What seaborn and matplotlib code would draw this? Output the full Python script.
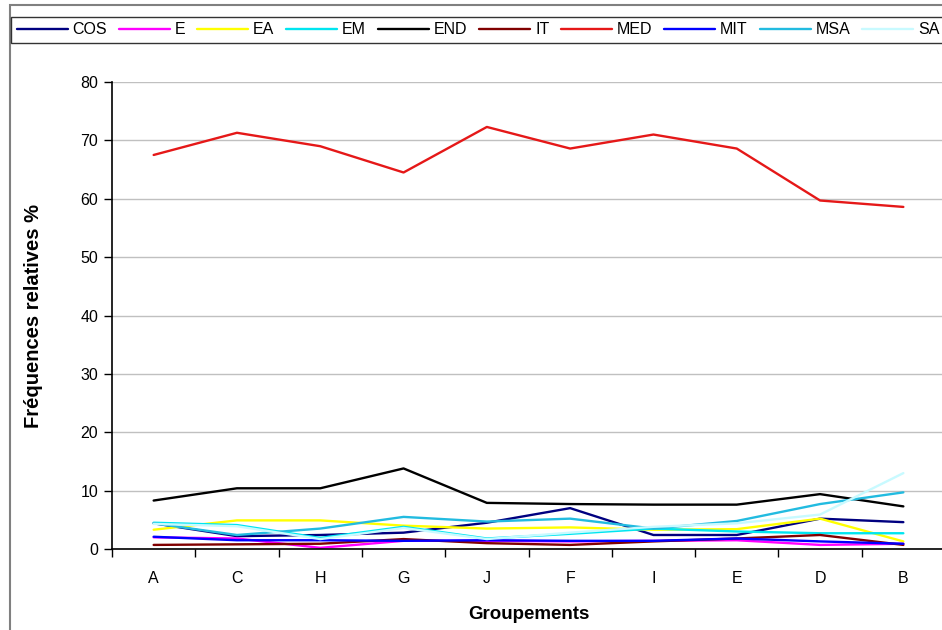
import matplotlib
matplotlib.use("Agg")
import matplotlib.pyplot as plt
from matplotlib.patches import Rectangle
from matplotlib.ticker import FixedLocator, MultipleLocator
import seaborn as sns
import pandas as pd

# Groupements along the x axis
groupements = ["A", "C", "H", "G", "J", "F", "I", "E", "D", "B"]

# Relative frequencies (%) per chorological type
COS = [4.4, 2.2, 2.4, 2.8, 4.5, 7.0, 2.4, 2.4, 5.2, 4.6]
E   = [2.0, 1.8, 0.2, 1.4, 1.4, 1.3, 1.4, 1.5, 0.7, 0.9]
EA  = [3.3, 4.9, 4.9, 4.0, 3.5, 3.7, 3.3, 3.4, 5.2, 1.3]
EM  = [4.5, 4.1, 1.9, 3.8, 1.8, 2.6, 3.5, 3.0, 2.7, 2.7]
END = [8.3, 10.4, 10.4, 13.8, 7.9, 7.7, 7.6, 7.6, 9.4, 7.3]
IT  = [0.7, 0.8, 0.9, 1.7, 1.0, 0.7, 1.3, 1.8, 2.4, 0.7]
MED = [67.5, 71.3, 69.0, 64.5, 72.3, 68.6, 71.0, 68.6, 59.7, 58.6]
MIT = [2.1, 1.5, 1.5, 1.4, 1.5, 1.4, 1.4, 1.8, 1.3, 0.9]
MSA = [4.4, 2.4, 3.5, 5.5, 4.7, 5.2, 3.5, 4.8, 7.7, 9.7]
SA  = [4.3, 3.9, 1.7, 3.6, 1.7, 2.8, 3.8, 4.4, 5.9, 13.0]

series_names = ["COS", "E", "EA", "EM", "END", "IT", "MED", "MIT", "MSA", "SA"]
series_values = [COS, E, EA, EM, END, IT, MED, MIT, MSA, SA]

colors = {
    "COS": "#000080", "E": "#FF00FF", "EA": "#FFFF00", "EM": "#00E5F0",
    "END": "#000000", "IT": "#800000", "MED": "#E51818", "MIT": "#0000FF",
    "MSA": "#22BBE0", "SA": "#C8FAFF",
}

rows = []
for name, vals in zip(series_names, series_values):
    for g, v in zip(groupements, vals):
        rows.append({"Groupement": g, "Fréquence": v, "Type": name})
df = pd.DataFrame(rows)

sns.set_style("white")
plt.rcParams["font.family"] = ["Liberation Sans", "DejaVu Sans"]
for key in ["text.color", "axes.labelcolor", "xtick.color", "ytick.color"]:
    plt.rcParams[key] = "black"

W, H = 942, 630
fig = plt.figure(figsize=(W / 100, H / 100), dpi=100)

# axes placed in pixel terms of the figure
left, right, bottom, top = 112, 945, 549, 82
ax = fig.add_axes([left / W, (H - bottom) / H, (right - left) / W, (bottom - top) / H])

sns.lineplot(data=df, x="Groupement", y="Fréquence", hue="Type",
             hue_order=series_names, palette=colors, sort=False,
             linewidth=1.7, ax=ax, legend=True)

ax.set_xlim(-0.5, len(groupements) - 0.5)
ax.set_ylim(0, 80)
ax.yaxis.set_major_locator(MultipleLocator(10))
ax.grid(axis="y", color="#C0C0C0", linewidth=1)
ax.grid(axis="x", visible=False)
ax.set_axisbelow(True)

for s in ["top", "right"]:
    ax.spines[s].set_visible(False)
for s in ["left", "bottom"]:
    ax.spines[s].set_color("black")
    ax.spines[s].set_linewidth(1.2)

ax.tick_params(axis="y", direction="out", length=6, width=1, color="black",
               labelcolor="black", labelsize=11.5, pad=4, left=True)
ax.tick_params(axis="x", which="major", length=0, labelsize=11.5, pad=16,
               labelcolor="black")
ax.xaxis.set_minor_locator(FixedLocator([i - 0.5 for i in range(len(groupements) + 1)]))
ax.tick_params(axis="x", which="minor", direction="out", length=6, width=1,
               color="black", bottom=True)

ax.set_xlabel("Groupements", fontsize=13.5, fontweight="bold", labelpad=14,
              color="black")
ax.set_ylabel("Fréquences relatives %", fontsize=14.5, fontweight="bold",
              labelpad=27, color="black")

# legend strip across the top of the chart
handles, labels = ax.get_legend_handles_labels()
ax.get_legend().remove()
leg = fig.legend(handles, labels, loc="lower left",
                 bbox_to_anchor=(11 / W, (H - 43) / H, (W - 8) / W, 30 / H),
                 mode="expand", ncol=10, handlelength=3.2, handletextpad=0.3,
                 borderaxespad=0, fontsize=11.5, frameon=True, fancybox=False,
                 borderpad=0.35, columnspacing=0.6, labelcolor="black")
leg.get_frame().set_edgecolor("black")
leg.get_frame().set_linewidth(1)
for line in leg.get_lines():
    line.set_linewidth(1.7)

# outer chart border
fig.patches.append(Rectangle((10 / W, -0.05), 1.0, (H - 5) / H + 0.05,
                             transform=fig.transFigure, fill=False,
                             edgecolor="#808080", linewidth=1.5, zorder=0))

fig.savefig("out.png", dpi=100)
